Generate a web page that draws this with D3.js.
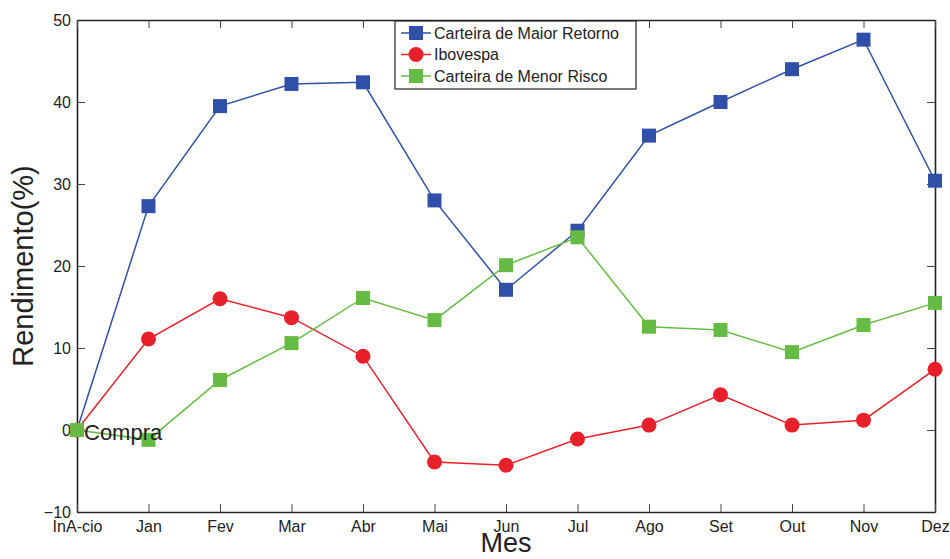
<!DOCTYPE html>
<html lang="pt">
<head>
    <meta charset="UTF-8">
    <title>Rendimento mensal</title>
    <script src="https://cdn.jsdelivr.net/npm/d3@7"></script>
    <style>
        body { margin: 0; background: #fff; }
        text { font-family: "Liberation Sans", Arial, sans-serif; fill: #222; }
    </style>
</head>
<body>
<script type="application/javascript">

    let w = 950, h = 559;
    let margin = { top: 20, right: 15, bottom: 47, left: 77 };

    // meses (rotulos do eixo x)
    let months = ["InA-cio", "Jan", "Fev", "Mar", "Abr", "Mai", "Jun", "Jul", "Ago", "Set", "Out", "Nov", "Dez"];
    let yTicks = [-10, 0, 10, 20, 30, 40, 50];

    let maiorRetorno = [0, 27.3, 39.5, 42.2, 42.4, 28.0, 17.1, 24.3, 35.9, 40.0, 44.0, 47.6, 30.4];
    let ibovespa = [0, 11.1, 16.0, 13.7, 9.0, -3.9, -4.3, -1.1, 0.6, 4.3, 0.6, 1.2, 7.4];
    let menorRisco = [0, -1.2, 6.1, 10.6, 16.1, 13.4, 20.1, 23.5, 12.6, 12.2, 9.5, 12.8, 15.5];

    let series = [
        { name: "Carteira de Maior Retorno", values: maiorRetorno, color: "#3050a8", marker: "square" },
        { name: "Ibovespa", values: ibovespa, color: "#e8202a", marker: "circle" },
        { name: "Carteira de Menor Risco", values: menorRisco, color: "#66bb44", marker: "square" }
    ];

    let iw = w - margin.left - margin.right,
        ih = h - margin.top - margin.bottom;

    let xScale = d3.scaleLinear()
        .domain([0, months.length - 1])
        .range([0, iw]);

    let yScale = d3.scaleLinear()
        .domain([-10, 50])
        .range([ih, 0]);

    let svg = d3.select("body")
        .append("svg")
        .attr("width", w)
        .attr("height", h);

    let g = svg.append("g")
        .attr("transform", "translate(" + margin.left + "," + margin.top + ")");

    // eixos estilo matlab: ticks para dentro, espelhados
    let fmt = function(d) { return d < 0 ? "\u2212" + Math.abs(d) : d; };

    let axisLeft = d3.axisLeft(yScale).tickValues(yTicks).tickSizeInner(-8).tickSizeOuter(0).tickPadding(6).tickFormat(fmt);
    let axisRight = d3.axisRight(yScale).tickValues(yTicks).tickSizeInner(-8).tickSizeOuter(0).tickFormat("");
    let axisBottom = d3.axisBottom(xScale).tickValues(d3.range(months.length)).tickSizeInner(-8).tickSizeOuter(0).tickPadding(6)
        .tickFormat(function(i) { return months[i]; });
    let axisTop = d3.axisTop(xScale).tickValues(d3.range(months.length)).tickSizeInner(-8).tickSizeOuter(0).tickFormat("");

    g.append("g").call(axisLeft);
    g.append("g").attr("transform", "translate(" + iw + ",0)").call(axisRight);
    let gb = g.append("g").attr("transform", "translate(0," + ih + ")").call(axisBottom);
    g.append("g").call(axisTop);

    g.selectAll(".domain").attr("stroke", "#222").attr("stroke-width", 1.6);
    g.selectAll(".tick line").attr("stroke", "#444");
    g.selectAll(".tick text").style("font-size", "16px").attr("fill", "#222");
    gb.selectAll(".tick text").attr("dy", "0.9em");

    // linhas e marcadores
    let line = d3.line()
        .x(function(d, i) { return xScale(i); })
        .y(function(d) { return yScale(d); });

    series.forEach(function(s) {
        g.append("path")
            .datum(s.values)
            .attr("fill", "none")
            .attr("stroke", s.color)
            .attr("stroke-width", 1.5)
            .attr("d", line);

        let pts = g.append("g").selectAll(".pt")
            .data(s.values)
            .enter();

        if (s.marker === "circle") {
            pts.append("circle")
                .attr("cx", function(d, i) { return xScale(i); })
                .attr("cy", function(d) { return yScale(d); })
                .attr("r", 7.5)
                .attr("fill", s.color);
        } else {
            pts.append("rect")
                .attr("x", function(d, i) { return xScale(i) - 7; })
                .attr("y", function(d) { return yScale(d) - 7; })
                .attr("width", 14)
                .attr("height", 14)
                .attr("fill", s.color);
        }
    });

    // anotacao
    g.append("text")
        .attr("x", xScale(0) + 7)
        .attr("y", yScale(0) + 2)
        .attr("dy", "0.35em")
        .style("font-size", "22px")
        .text("Compra");

    // legenda
    let lg = svg.append("g").attr("transform", "translate(395,21)");
    lg.append("rect")
        .attr("width", 241)
        .attr("height", 68)
        .attr("fill", "#fff")
        .attr("stroke", "#222")
        .attr("stroke-width", 1.2);

    series.forEach(function(s, i) {
        let row = lg.append("g").attr("transform", "translate(0," + (12 + i * 21.5) + ")");
        row.append("line")
            .attr("x1", 6).attr("x2", 36)
            .attr("stroke", s.color).attr("stroke-width", 1.5);
        if (s.marker === "circle") {
            row.append("circle").attr("cx", 21).attr("r", 7.5).attr("fill", s.color);
        } else {
            row.append("rect").attr("x", 14).attr("y", -7).attr("width", 14).attr("height", 14).attr("fill", s.color);
        }
        row.append("text")
            .attr("x", 39)
            .attr("dy", "0.35em")
            .style("font-size", "16px")
            .text(s.name);
    });

    // titulos dos eixos
    svg.append("text")
        .attr("transform", "translate(33," + (margin.top + ih / 2) + ") rotate(-90)")
        .attr("text-anchor", "middle")
        .style("font-size", "29px")
        .text("Rendimento(%)");

    svg.append("text")
        .attr("x", margin.left + iw / 2)
        .attr("y", 552)
        .attr("text-anchor", "middle")
        .style("font-size", "27px")
        .text("Mes");

</script>
</body>
</html>
